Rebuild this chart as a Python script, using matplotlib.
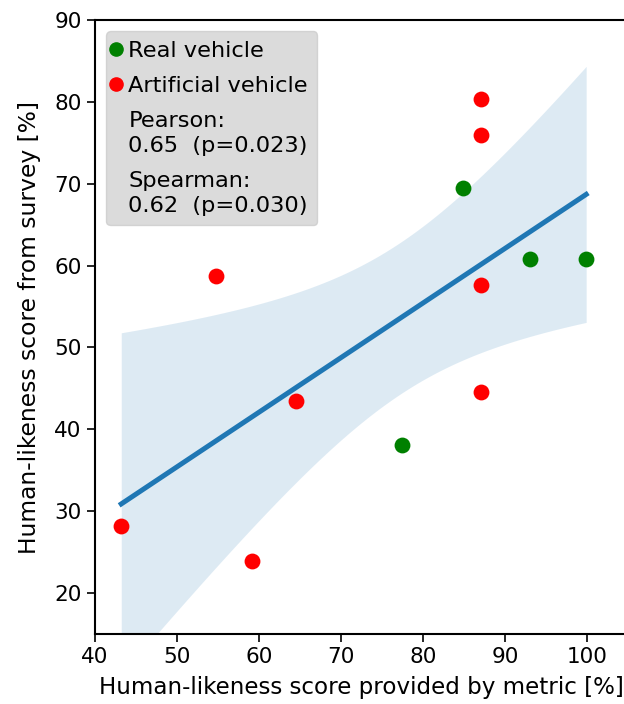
import matplotlib
matplotlib.use('Agg')
import matplotlib.pyplot as plt
from matplotlib.lines import Line2D
import numpy as np

# metric score (x) vs survey score (y)
real_x = [84.9, 93.1, 99.9, 77.4]
real_y = [69.5, 60.8, 60.8, 38.1]
art_x = [87.1, 87.1, 87.1, 87.1, 54.7, 64.5, 43.2, 59.2]
art_y = [80.4, 76.0, 57.6, 44.5, 58.7, 43.5, 28.2, 23.9]

pearson_txt = 'Pearson:\n0.65  (p=0.023)'
spearman_txt = 'Spearman:\n0.62  (p=0.030)'

plt.rcParams['font.size'] = 15.5

fig = plt.figure(figsize=(6.24, 7.04), dpi=100)
ax = fig.add_axes([95 / 624, 70 / 704, 533 / 624, 614 / 704])

x = np.array(real_x + art_x)
y = np.array(real_y + art_y)

# OLS fit + 95% confidence band
slope, icpt = np.polyfit(x, y, 1)
xs = np.linspace(x.min(), x.max(), 100)
yhat = icpt + slope * xs
n = len(x)
resid = y - (icpt + slope * x)
s = np.sqrt(np.sum(resid ** 2) / (n - 2))
sxx = np.sum((x - x.mean()) ** 2)
se = s * np.sqrt(1 / n + (xs - x.mean()) ** 2 / sxx)
tval = 2.228
ax.fill_between(xs, yhat - tval * se, yhat + tval * se, color='#1f77b4', alpha=0.15, lw=0)
ax.plot(xs, yhat, color='#1f77b4', lw=3.6)

ax.scatter(real_x, real_y, s=130, color='green', lw=0, zorder=3)
ax.scatter(art_x, art_y, s=130, color='red', lw=0, zorder=3)

ax.set_xlim(40, 105)
ax.set_ylim(15, 90)
ax.set_xticks(np.arange(40, 101, 10))
ax.set_yticks(np.arange(20, 91, 10))
ax.tick_params(length=6, width=1.2, labelsize=15.5)
for sp in ax.spines.values():
    sp.set_linewidth(1.5)

ax.set_xlabel('Human-likeness score provided by metric [%]', fontsize=16.6, labelpad=6)
ax.set_ylabel('Human-likeness score from survey [%]', fontsize=16.8, labelpad=10)

handles = [
    Line2D([], [], marker='o', color='green', ls='', markersize=9.5),
    Line2D([], [], marker='o', color='red', ls='', markersize=9.5),
    Line2D([], [], ls='', marker=''),
    Line2D([], [], ls='', marker=''),
]
labels = ['Real vehicle', 'Artificial vehicle', pearson_txt, spearman_txt]
leg = ax.legend(handles, labels, loc='upper left', facecolor='lightgray', framealpha=0.8,
                handlelength=0, handletextpad=0.56, borderaxespad=0.5, borderpad=0.42,
                labelspacing=0.68, fancybox=True, fontsize=16.2)
for t in leg.get_texts():
    t.set_linespacing(1.28)

fig.savefig('out.png', dpi=100)
